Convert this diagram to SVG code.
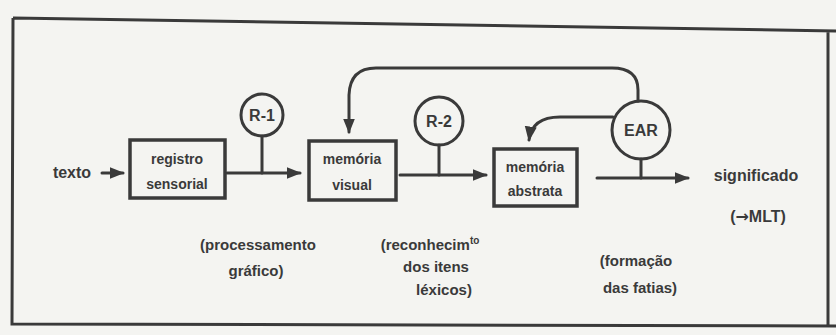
<svg xmlns="http://www.w3.org/2000/svg" width="836" height="335" viewBox="0 0 836 335">
<defs>
<marker id="ah" viewBox="0 0 10 10" refX="9" refY="5" markerWidth="5" markerHeight="5" orient="auto-start-reverse" markerUnits="strokeWidth">
<path d="M0,1 L10,5 L0,9 z" fill="#3a3a3a"/>
</marker>
<style>
.ln{fill:none;stroke:#3a3a3a;stroke-width:3;stroke-linecap:round;stroke-linejoin:round}
.bx{fill:#f4f4f1;stroke:#3a3a3a;stroke-width:3.5}
.t{font-family:"Liberation Sans","DejaVu Sans",sans-serif;fill:#3a3a3a;font-weight:bold;text-anchor:middle}
.s{font-size:14px}
.m{font-size:15px}
.c{font-size:16px}
</style>
</defs>
<rect x="0" y="0" width="836" height="335" fill="#f4f4f1"/>
<path d="M13,18 L836,31 M13,18 L12,324 L836,326 M828,30 L828,326" fill="none" stroke="#3a3a3a" stroke-width="3"/>

<g id="texto">
<text class="t c" x="72" y="178">texto</text>
<path class="ln" d="M102,173 L123,173" marker-end="url(#ah)"/>
</g>

<g id="registro">
<rect class="bx" x="130" y="140" width="95" height="58"/>
<text class="t s" x="177" y="164">registro</text>
<text class="t s" x="177" y="189">sensorial</text>
</g>

<g id="memoria-visual">
<rect class="bx" x="309" y="141" width="87" height="59"/>
<text class="t s" x="352" y="164">memória</text>
<text class="t s" x="352" y="190">visual</text>
</g>

<g id="memoria-abstrata">
<rect class="bx" x="494" y="149" width="83" height="57"/>
<text class="t s" x="535" y="172">memória</text>
<text class="t s" x="535" y="196">abstrata</text>
</g>

<g id="r1">
<circle class="ln" cx="262" cy="115" r="21" fill="#f4f4f1"/>
<text class="t c" x="262" y="121">R-1</text>
</g>

<g id="r2">
<circle class="ln" cx="439" cy="121" r="24" fill="#f4f4f1"/>
<text class="t c" x="439" y="127">R-2</text>
</g>

<g id="ear">
<circle class="ln" cx="641" cy="130" r="29" fill="#f4f4f1"/>
<text class="t c" x="641" y="136">EAR</text>
</g>

<g id="significado">
<text class="t c" x="756" y="181">significado</text>
<text class="t c" x="758" y="222">(<tspan font-family="DejaVu Sans, sans-serif">→</tspan>MLT)</text>
</g>

<g id="labels">
<text class="t m" x="258" y="250">(processamento</text>
<text class="t m" x="256" y="276">gráfico)</text>
<text class="t m" x="430" y="250">(reconhecim<tspan font-size="10" dy="-6">to</tspan></text>
<text class="t m" x="436" y="272">dos itens</text>
<text class="t m" x="444" y="295">léxicos)</text>
<text class="t m" x="636" y="266">(formação</text>
<text class="t m" x="640" y="293">das fatias)</text>
</g>

<g id="connectors">
<path class="ln" d="M227,173 L300,173" marker-end="url(#ah)"/>
<path class="ln" d="M262,136 L262,173"/>
<path class="ln" d="M400,175 L486,175" marker-end="url(#ah)"/>
<path class="ln" d="M439,145 L439,175"/>
<path class="ln" d="M597,178 L688,178" marker-end="url(#ah)"/>
<path class="ln" d="M641,159 L641,178"/>
<path class="ln" d="M638,101 L638,90 Q638,68 612,68 L376,68 Q350,68 349,95 L349,132" marker-end="url(#ah)"/>
<path class="ln" d="M613,117 L560,117 Q532,117 529,140" marker-end="url(#ah)"/>
</g>
</svg>
